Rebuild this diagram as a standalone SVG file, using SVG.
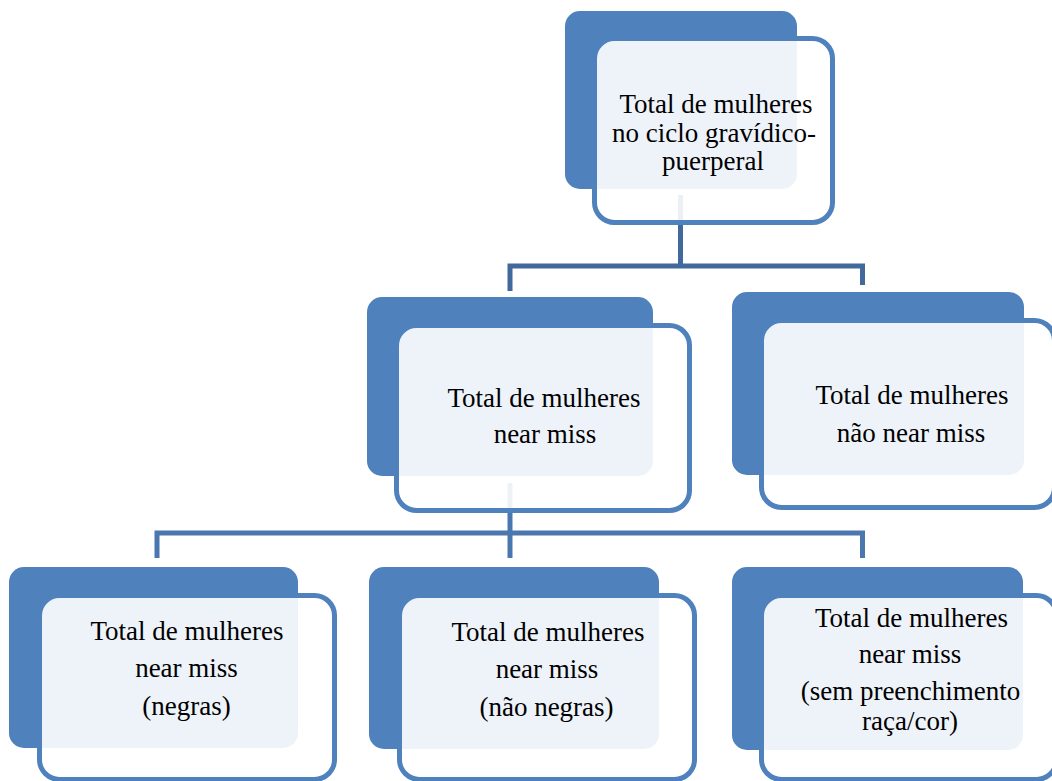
<svg xmlns="http://www.w3.org/2000/svg" width="1052" height="781" viewBox="0 0 1052 781">
<style>
.back{fill:#4f81bd;}
.front{fill:#ffffff;fill-opacity:0.9;stroke:#4f81bd;stroke-width:5;}
.lbl{font-family:'Liberation Serif','Times New Roman',Tinos,'DejaVu Serif',serif;font-size:27px;fill:#000;text-anchor:middle;}
.c1{fill:none;stroke:#41699c;stroke-width:5;}
.c2{fill:none;stroke:#4a77b0;stroke-width:5;}
</style>
<rect width="1052" height="781" fill="#ffffff"/>
<g id="connectors">
<path class="c1" d="M680.5,195 V266"/>
<path class="c1" d="M510,291 V266 H862.5 V285"/>
<path class="c2" d="M510,483 V558"/>
<path class="c2" d="M157,558 V533 H862.5 V558"/>
</g>
<g id="node-top">
<rect class="back" x="565" y="11" width="232" height="178" rx="15"/>
<rect class="front" x="594.5" y="38.5" width="238" height="184" rx="20"/>
<text class="lbl" x="716" y="113">Total de mulheres</text>
<text class="lbl" x="714" y="142">no ciclo gravídico-</text>
<text class="lbl" x="713" y="170">puerperal</text>
</g>
<g id="node-nearmiss">
<rect class="back" x="367" y="297" width="286" height="179" rx="15"/>
<rect class="front" x="396.5" y="325.5" width="293" height="185" rx="20"/>
<text class="lbl" x="544" y="407">Total de mulheres</text>
<text class="lbl" x="545" y="443">near miss</text>
</g>
<g id="node-nao-nearmiss">
<rect class="back" x="732" y="292" width="292" height="183" rx="15"/>
<rect class="front" x="761.5" y="320.5" width="293" height="187" rx="20"/>
<text class="lbl" x="912" y="404">Total de mulheres</text>
<text class="lbl" x="911" y="442">não near miss</text>
</g>
<g id="node-negras">
<rect class="back" x="9" y="567" width="289" height="181" rx="15"/>
<rect class="front" x="39.5" y="595.5" width="295" height="184" rx="20"/>
<text class="lbl" x="187" y="640">Total de mulheres</text>
<text class="lbl" x="186.5" y="677">near miss</text>
<text class="lbl" x="186.5" y="715">(negras)</text>
</g>
<g id="node-nao-negras">
<rect class="back" x="369" y="567" width="290" height="182" rx="15"/>
<rect class="front" x="399.5" y="595.5" width="295" height="184" rx="20"/>
<text class="lbl" x="548" y="641">Total de mulheres</text>
<text class="lbl" x="547" y="678">near miss</text>
<text class="lbl" x="546.5" y="716">(não negras)</text>
</g>
<g id="node-sem-preenchimento">
<rect class="back" x="732" y="567" width="291" height="183" rx="15"/>
<rect class="front" x="761.5" y="595.5" width="295" height="184" rx="20"/>
<text class="lbl" x="911.5" y="627">Total de mulheres</text>
<text class="lbl" x="910" y="663">near miss</text>
<text class="lbl" x="910.5" y="700">(sem preenchimento</text>
<text class="lbl" x="910" y="730">raça/cor)</text>
</g>
</svg>
